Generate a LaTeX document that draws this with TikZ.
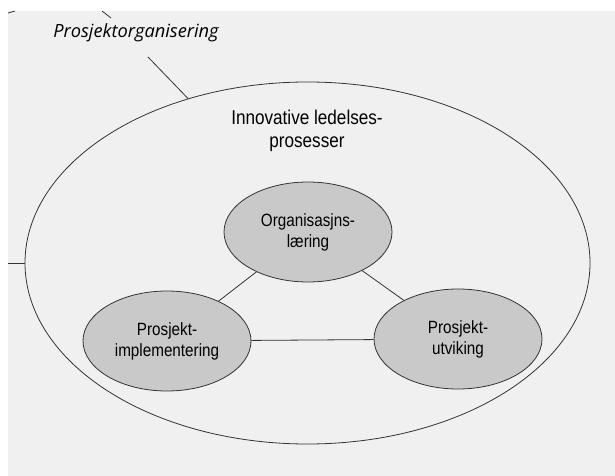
\documentclass[tikz,border=0pt]{standalone}
\usepackage{fontspec}
\setmainfont{Liberation Sans}[FakeStretch=0.86]
\newfontfamily\orgfont{Open Sans}
\usetikzlibrary{shapes.geometric}
\definecolor{pagegray}{gray}{0.94}
\definecolor{blobgray}{gray}{0.79}
\definecolor{inkgray}{gray}{0.2}
\tikzset{
  ring/.style = {ellipse, draw=inkgray, line width=.8pt, inner sep=0pt},
  blob/.style = {ring, fill=blobgray, minimum width=168bp, minimum height=100bp,
                 align=center, font=\fontsize{17.8}{21}\selectfont},
  link/.style = {draw=inkgray, line width=.8pt}
}
\begin{document}
\begin{tikzpicture}[x=1bp, y=-1bp]
  \useasboundingbox (0,0) rectangle (615,476);
  \fill[pagegray] (8,11) rectangle (615,476);
  \node[ring, minimum width=565bp, minimum height=362bp] (0) at (307.5,263) {};
  \node[align=center, font=\fontsize{20}{23}\selectfont] (1) at (307,131) {Innovative ledelses-\\prosesser};
  \node[blob] (2) at (308,232) {Organisasjns-\\læring};
  \node[blob] (3) at (167,341) {Prosjekt-\\implementering};
  \node[blob] (4) at (458,339) {Prosjekt-\\utviking};
  \node[font=\orgfont\itshape\fontsize{18.3}{20}\selectfont] (5) at (136,33) {Prosjektorganisering};
  \coordinate (6) at (148,57);
  \coordinate (7) at (8,263);
  \draw[link] (2)--(3);
  \draw[link] (2)--(4);
  \draw[link] (3)--(4);
  \draw[link] (6)--(0.126);
  \draw[link] (7)--(0.west);
  \draw[link] (8,13)--(15,11);
  \draw[link] (102,11)--(111,18);
\end{tikzpicture}
\end{document}
